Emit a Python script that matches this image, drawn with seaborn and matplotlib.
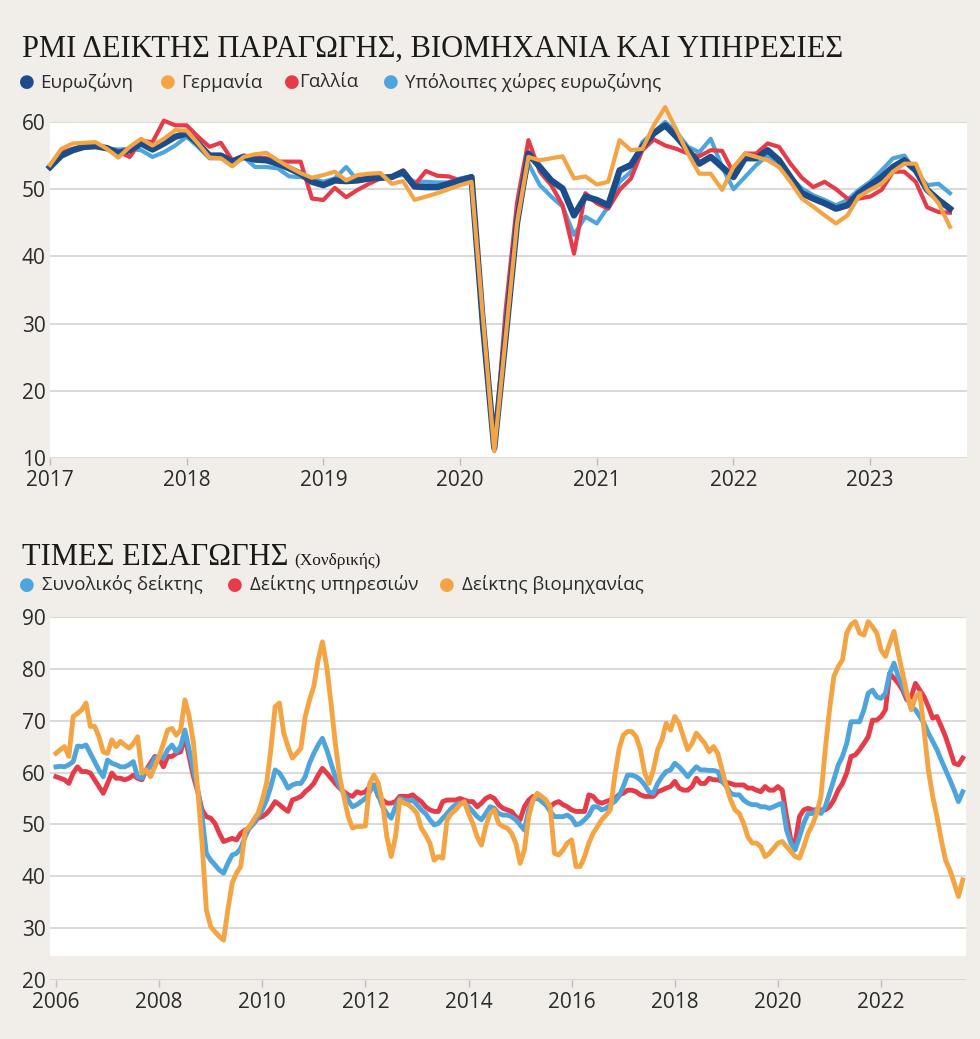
import numpy as np
import pandas as pd
import seaborn as sns
import matplotlib.pyplot as plt

# ---- PMI (top panel), monthly Jan 2017 - Aug 2023
pmi_months = pd.date_range("2017-01-01", "2023-08-01", freq="MS")
eurozone = [53.3, 55.0, 55.8, 56.3, 56.4, 56.1, 55.4, 55.8, 56.8, 55.9, 56.8, 57.8, 58.3, 56.8, 55.0,
            55.0, 54.1, 54.8, 54.4, 54.3, 53.8, 53.1, 52.3, 51.1, 50.6, 51.3, 51.2, 51.3, 51.6,
            51.7, 51.8, 52.6, 50.4, 50.3, 50.3, 50.8, 51.3, 51.8, 30.0, 11.5, 28.0, 45.0, 55.3,
            53.3, 51.3, 50.1, 46.1, 48.9, 48.4, 47.6, 52.8, 53.6, 56.3, 58.3, 59.5,
            57.8, 55.8, 53.8, 54.8, 53.3, 51.8, 54.6, 54.6, 55.8, 54.3, 51.8, 49.4, 48.6, 47.9,
            47.1, 47.6, 49.4, 50.6, 51.8, 53.3, 54.3, 52.8, 49.9, 48.4, 47.1]
germany = [53.6, 56.0, 56.8, 56.9, 57.0, 56.0, 54.7, 56.3, 57.5, 56.5, 57.5, 58.8, 58.7, 56.8, 54.7,
           54.6, 53.4, 54.8, 55.2, 55.4, 54.3, 53.3, 52.4, 51.7, 52.1, 52.6, 51.3, 52.1, 52.3,
           52.4, 50.8, 51.2, 48.4, 48.9, 49.4, 50.0, 50.6, 51.1, 31.0, 11.0, 28.0, 45.0, 54.8,
           54.3, 54.6, 54.9, 51.6, 51.9, 50.7, 51.1, 57.3, 55.8, 56.0, 59.5, 62.2,
           58.8, 55.3, 52.3, 52.3, 49.9, 53.3, 55.3, 54.8, 54.3, 53.3, 51.1, 48.6, 47.4, 46.1,
           44.9, 46.1, 48.9, 49.9, 50.8, 52.6, 53.8, 53.8, 49.9, 47.9, 44.4]
france = [53.5, 55.5, 56.0, 56.4, 56.6, 56.0, 55.6, 54.8, 57.2, 57.0, 60.2, 59.5, 59.5, 57.8, 56.3,
          56.9, 54.3, 55.0, 54.8, 54.6, 54.1, 54.1, 54.1, 48.6, 48.4, 50.2, 48.8, 49.9, 50.8,
          51.6, 51.8, 52.8, 50.6, 52.7, 52.0, 51.9, 51.3, 51.8, 29.0, 11.1, 32.0, 48.0, 57.3,
          52.6, 50.6, 47.6, 40.4, 49.4, 47.9, 47.1, 49.9, 51.6, 55.8, 57.4, 56.5,
          56.0, 55.3, 54.9, 55.8, 55.7, 52.4, 55.3, 55.3, 56.8, 56.3, 53.8, 51.7, 50.3, 51.1,
          50.0, 48.6, 48.6, 48.9, 49.9, 52.6, 52.6, 51.1, 47.3, 46.6, 46.5]
rest_ez = [53.5, 55.3, 55.8, 56.2, 56.3, 56.0, 55.9, 56.0, 55.8, 54.8, 55.5, 56.5, 57.8, 56.3, 54.6,
           54.6, 54.3, 54.8, 53.3, 53.3, 53.1, 51.9, 51.8, 51.6, 51.1, 51.6, 53.3, 51.3, 51.4,
           51.6, 51.9, 52.1, 51.1, 51.1, 51.0, 51.0, 51.6, 51.9, 31.0, 12.0, 30.0, 46.0, 53.8,
           50.6, 48.9, 47.4, 43.2, 45.9, 44.9, 47.4, 51.1, 52.6, 57.0, 58.5, 60.0,
           58.5, 56.3, 55.5, 57.5, 53.3, 50.0, 51.8, 53.6, 55.0, 53.8, 51.8, 50.1, 49.1, 48.4,
           47.6, 48.4, 49.9, 51.1, 52.8, 54.6, 55.0, 52.6, 50.6, 50.8, 49.4]

# ---- Import prices (bottom panel), monthly Jan 2006 - Aug 2023
imp_months = pd.date_range("2006-01-01", "2023-08-01", freq="MS")
total_idx = [61.1, 61.2, 61.1, 61.5, 62.1, 65.1, 65.0, 65.3, 63.7, 62.1, 60.5, 59.2, 62.4, 61.8, 61.5,
             61.1, 61.1, 61.5, 62.1, 59.2, 58.9, 60.5, 61.1, 62.8, 63.1, 62.8, 64.4, 65.3, 64.0,
             65.0, 68.2, 64.4, 60.5, 56.6, 51.5, 44.4, 43.1, 42.2, 41.2, 40.6, 42.5, 44.1, 44.4,
             45.4, 47.6, 49.3, 50.2, 51.5, 52.8, 54.7, 57.3, 60.5, 59.9, 58.6, 57.0, 57.6, 57.9,
             57.9, 59.2, 61.8, 63.7, 65.3, 66.6, 64.4, 61.8, 59.2, 57.3, 56.0, 54.7, 53.4, 53.8,
             54.4, 55.0, 56.3, 57.6, 55.7, 53.4, 52.1, 51.2, 53.4, 55.0, 54.7, 54.4, 54.7, 53.8,
             52.8, 52.1, 50.9, 49.9, 50.2, 51.2, 52.1, 53.1, 53.8, 54.1, 54.1, 53.4, 52.5, 51.5,
             50.9, 52.1, 53.4, 53.1, 52.1, 51.8, 51.8, 51.5, 50.9, 49.9, 48.9, 52.8, 54.7, 55.4,
             54.4, 53.8, 52.5, 51.5, 51.5, 51.5, 51.8, 51.2, 49.9, 50.2, 50.9, 51.8, 53.4, 53.4,
             52.8, 53.1, 53.8, 54.4, 55.4, 57.3, 59.5, 59.5, 59.2, 58.6, 57.6, 56.3,
             56.0, 57.9, 59.2, 60.2, 60.5, 61.8, 61.1, 60.2, 59.2, 60.2, 61.1, 60.5, 60.5, 60.4,
             60.4, 60.2, 58.3, 57.3, 56.0, 55.7, 55.7, 54.7, 54.1, 53.8, 53.8, 53.4, 53.4, 53.1,
             53.4, 53.8, 54.1, 48.9, 46.4, 45.1, 47.6, 50.2, 52.1, 52.1, 52.8, 52.1, 53.4, 56.0,
             58.6, 61.4, 63.1, 65.6, 69.8, 69.8, 69.8, 72.1, 75.3, 75.9, 74.6, 74.3, 75.3, 79.1,
             81.1, 78.5, 76.6, 74.6, 72.7, 72.1, 70.8, 69.5, 67.6, 66.0, 64.4, 62.4, 60.5, 58.6,
             56.6, 54.4, 56.3]
services_idx = [59.2, 58.9, 58.6, 57.9, 59.9, 61.1, 60.2, 60.2, 59.9, 58.6, 57.3, 56.0, 57.9, 59.9,
                58.9, 58.9, 58.6, 58.9, 59.5, 58.9, 58.6, 60.5, 61.8, 63.1, 62.8, 61.1, 63.1, 63.1,
                63.7, 64.0, 66.9, 63.1, 59.2, 56.3, 52.8, 51.5, 51.2, 50.2, 48.3, 46.7, 47.0, 47.3,
                47.0, 48.3, 48.9, 49.3, 50.2, 51.2, 51.5, 52.1, 53.1, 54.4, 53.8, 53.1, 52.5, 54.7,
                55.0, 55.4, 56.3, 57.0, 57.9, 59.5, 60.8, 59.9, 58.9, 57.9, 57.0, 56.3, 55.7, 55.4,
                56.3,
                56.0, 56.3, 57.3, 57.6, 55.4, 54.7, 54.1, 54.1, 54.4, 55.4, 55.4, 55.4, 55.7, 55.0,
                54.4, 53.4, 52.8, 52.5, 52.5, 54.4, 54.7, 54.7, 54.7, 55.0, 54.7, 54.4, 54.4, 53.4,
                54.1, 55.0, 55.4, 55.0, 53.8, 53.1, 52.8, 52.5, 51.5, 50.9, 53.4, 54.7, 55.4, 55.0,
                54.7, 53.8, 53.4, 54.1, 54.4, 53.8, 53.4, 52.8, 52.5, 52.5, 52.5, 55.7, 55.4, 54.4,
                54.1, 54.4, 54.7, 55.0, 55.7, 56.0, 56.6, 56.6, 56.3, 55.7, 55.4, 55.4,
                55.4, 56.3, 56.6, 57.0, 57.3, 58.3, 57.0, 56.6, 56.6, 57.3, 58.9, 57.9, 57.9, 58.9,
                58.6, 58.6, 58.3, 58.1, 57.9, 57.6, 57.6, 57.6, 57.0, 57.0, 56.6, 56.3, 57.3, 56.6,
                56.6, 57.3, 56.6, 51.5, 47.0, 46.4, 51.5, 52.8, 53.1, 52.8, 52.8, 52.8, 52.8, 53.4,
                54.7, 56.6, 57.9, 59.9, 63.1, 63.4, 64.4, 65.6, 66.9, 70.1, 70.1, 70.8, 72.1, 79.1,
                78.2, 77.2, 75.9, 74.0, 74.6, 77.2, 75.9, 74.6, 72.7, 70.5, 70.8, 68.9, 66.9, 64.4,
                61.8, 61.5, 62.8]
industry_idx = [63.7, 64.4, 65.0, 63.1, 70.8, 71.4, 72.1, 73.4, 68.9, 68.9, 66.9, 64.0, 63.7, 66.3,
                65.0, 66.0, 65.3, 64.7, 65.6, 66.9, 59.9, 60.5, 59.2, 61.1, 63.1, 65.6, 68.2, 68.5,
                67.2, 68.2, 74.0, 70.8, 65.6, 56.6, 46.4, 33.5, 30.3, 29.3, 28.4, 27.7, 33.5, 38.7,
                40.6, 41.9, 48.6, 49.6, 50.9, 52.1, 54.7, 57.9, 64.4, 72.7, 73.4, 67.6, 65.0, 62.8,
                63.7, 64.7, 70.8, 74.0, 76.6, 81.7, 85.2, 80.4, 73.4, 65.6, 59.2, 55.4, 51.5, 49.3,
                49.6,
                49.6, 49.7, 57.9, 59.5, 57.9, 54.1, 47.6, 43.8, 47.6, 54.7, 54.1, 53.8, 53.1, 52.1,
                49.3, 48.0, 46.4, 43.1, 43.8, 43.5, 50.9, 52.1, 52.8, 53.8, 54.4, 52.1, 50.2, 47.6,
                46.0, 49.6, 52.1, 52.8, 50.2, 49.6, 49.3, 48.3, 46.4, 42.5, 45.1, 51.5, 54.7, 56.0,
                55.4, 54.7, 53.4, 44.4, 44.1, 45.1, 46.4, 47.0, 41.9, 41.9, 43.8, 46.4, 48.3, 49.6,
                50.9, 51.8, 52.8, 59.2, 64.4, 67.2, 67.9, 67.9, 66.9, 64.4, 59.9, 57.9,
                60.5, 64.4, 66.3, 69.5, 68.2, 70.8, 69.5, 66.9, 64.4, 65.6, 67.6, 66.6, 65.6, 64.0,
                65.0, 63.7, 60.5, 57.3, 54.7, 52.8, 52.1, 50.2, 47.6, 46.4, 46.4, 45.7, 43.8, 44.4,
                45.4, 46.4, 46.7, 45.7, 44.8, 43.8, 43.5, 45.7, 48.3, 49.9, 52.1, 55.4, 64.4, 72.1,
                78.5, 80.4, 81.7, 86.9, 88.5, 89.1, 86.9, 86.5, 89.1, 88.1, 86.9, 83.6, 82.4, 84.9,
                87.2, 83.0, 79.1, 75.3, 72.1, 74.6, 75.3, 68.2, 60.5, 55.4, 51.5, 47.0, 43.1, 41.2,
                38.7, 36.1, 39.3]

BG = "#f1eeea"
NAVY = "#1c4d8a"
ORANGE = "#f4a443"
RED = "#e63c4a"
LBLUE = "#4ea4dc"
TXT = "#2b2b2b"
GRID = "#cfcfcf"


def dec_year(d):
    return d.year + (d.month - 1) / 12


x_pmi = dec_year(pmi_months)
x_imp = dec_year(imp_months)

fig = plt.figure(figsize=(9.8, 10.39), dpi=100, facecolor=BG)
ax1 = fig.add_axes([0.051, 0.5592, 0.936, 0.3234])
ax2 = fig.add_axes([0.051, 0.0568, 0.9347, 0.3494])

tick_font = {"family": "Open Sans", "size": 15, "color": TXT}


def style_axes(ax, yticks, xticks):
    ax.set_yticks(yticks)
    ax.set_xticks(xticks)
    ax.set_yticklabels([str(t) for t in yticks], fontdict=tick_font)
    ax.set_xticklabels([str(t) for t in xticks], fontdict=tick_font)
    ax.grid(axis="y", color=GRID, linewidth=1.1)
    ax.grid(axis="x", visible=False)
    ax.set_axisbelow(True)
    for s in ax.spines.values():
        s.set_visible(False)
    ax.tick_params(axis="y", length=0, pad=3)
    ax.tick_params(axis="x", length=5, width=1, color="#bdbdbd", pad=4)
    ax.set_xlabel("")
    ax.set_ylabel("")


# top panel
ax1.set_facecolor("white")
for ys, col, lw in [(rest_ez, LBLUE, 3.0), (france, RED, 3.0), (eurozone, NAVY, 4.6), (germany, ORANGE, 3.0)]:
    sns.lineplot(x=x_pmi, y=ys, ax=ax1, color=col, linewidth=lw, clip_on=False)
ax1.set_ylim(10, 60)
ax1.set_xlim(2017.0, 2023.71)
style_axes(ax1, list(range(10, 61, 10)), list(range(2017, 2024)))

# bottom panel
ax2.set_facecolor(BG)
ax2.axhspan(24.6, 90, color="white", zorder=0, linewidth=0)
for ys, col in [(services_idx, RED), (total_idx, LBLUE), (industry_idx, ORANGE)]:
    sns.lineplot(x=x_imp, y=ys, ax=ax2, color=col, linewidth=3.5, clip_on=False)
ax2.set_ylim(20, 90)
ax2.set_xlim(2005.884, 2023.646)
style_axes(ax2, list(range(20, 91, 10)), list(range(2006, 2023, 2)))

# titles
title_font = dict(family="Liberation Serif", color="#1a1a1a")
fig.text(22 / 980, 1 - 57 / 1039, "PMI ΔΕΙΚΤΗΣ ΠΑΡΑΓΩΓΗΣ, ΒΙΟΜΗΧΑΝΙΑ ΚΑΙ ΥΠΗΡΕΣΙΕΣ",
         fontsize=22, va="baseline", **title_font)
t2 = fig.text(22 / 980, 1 - 565 / 1039, "ΤΙΜΕΣ ΕΙΣΑΓΩΓΗΣ", fontsize=22, va="baseline", **title_font)
renderer = fig.canvas.get_renderer()
t2_end = t2.get_window_extent(renderer).x1
fig.text((t2_end + 6) / 980, 1 - 565 / 1039, "(Χονδρικής)", fontsize=12.5, va="baseline", **title_font)

# legends
leg_font = dict(family="Open Sans", fontsize=13.5, color=TXT, va="center")


def legend_row(y_px, items):
    for dot_x, text_x, label, col in items:
        fig.text(dot_x / 980, 1 - y_px / 1039, "●", color=col, fontsize=13,
                 ha="center", va="center", family="DejaVu Sans")
        fig.text(text_x / 980, 1 - y_px / 1039, label, **leg_font)


legend_row(82, [(27, 40, "Ευρωζώνη", NAVY), (168, 181, "Γερμανία", ORANGE),
                (292, 299, "Γαλλία", RED), (391, 405, "Υπόλοιπες χώρες ευρωζώνης", LBLUE)])
legend_row(585, [(27, 42, "Συνολικός δείκτης", LBLUE), (235, 250, "Δείκτης υπηρεσιών", RED),
                 (447, 462, "Δείκτης βιομηχανίας", ORANGE)])

fig.savefig("out.png", dpi=100, facecolor=BG)
